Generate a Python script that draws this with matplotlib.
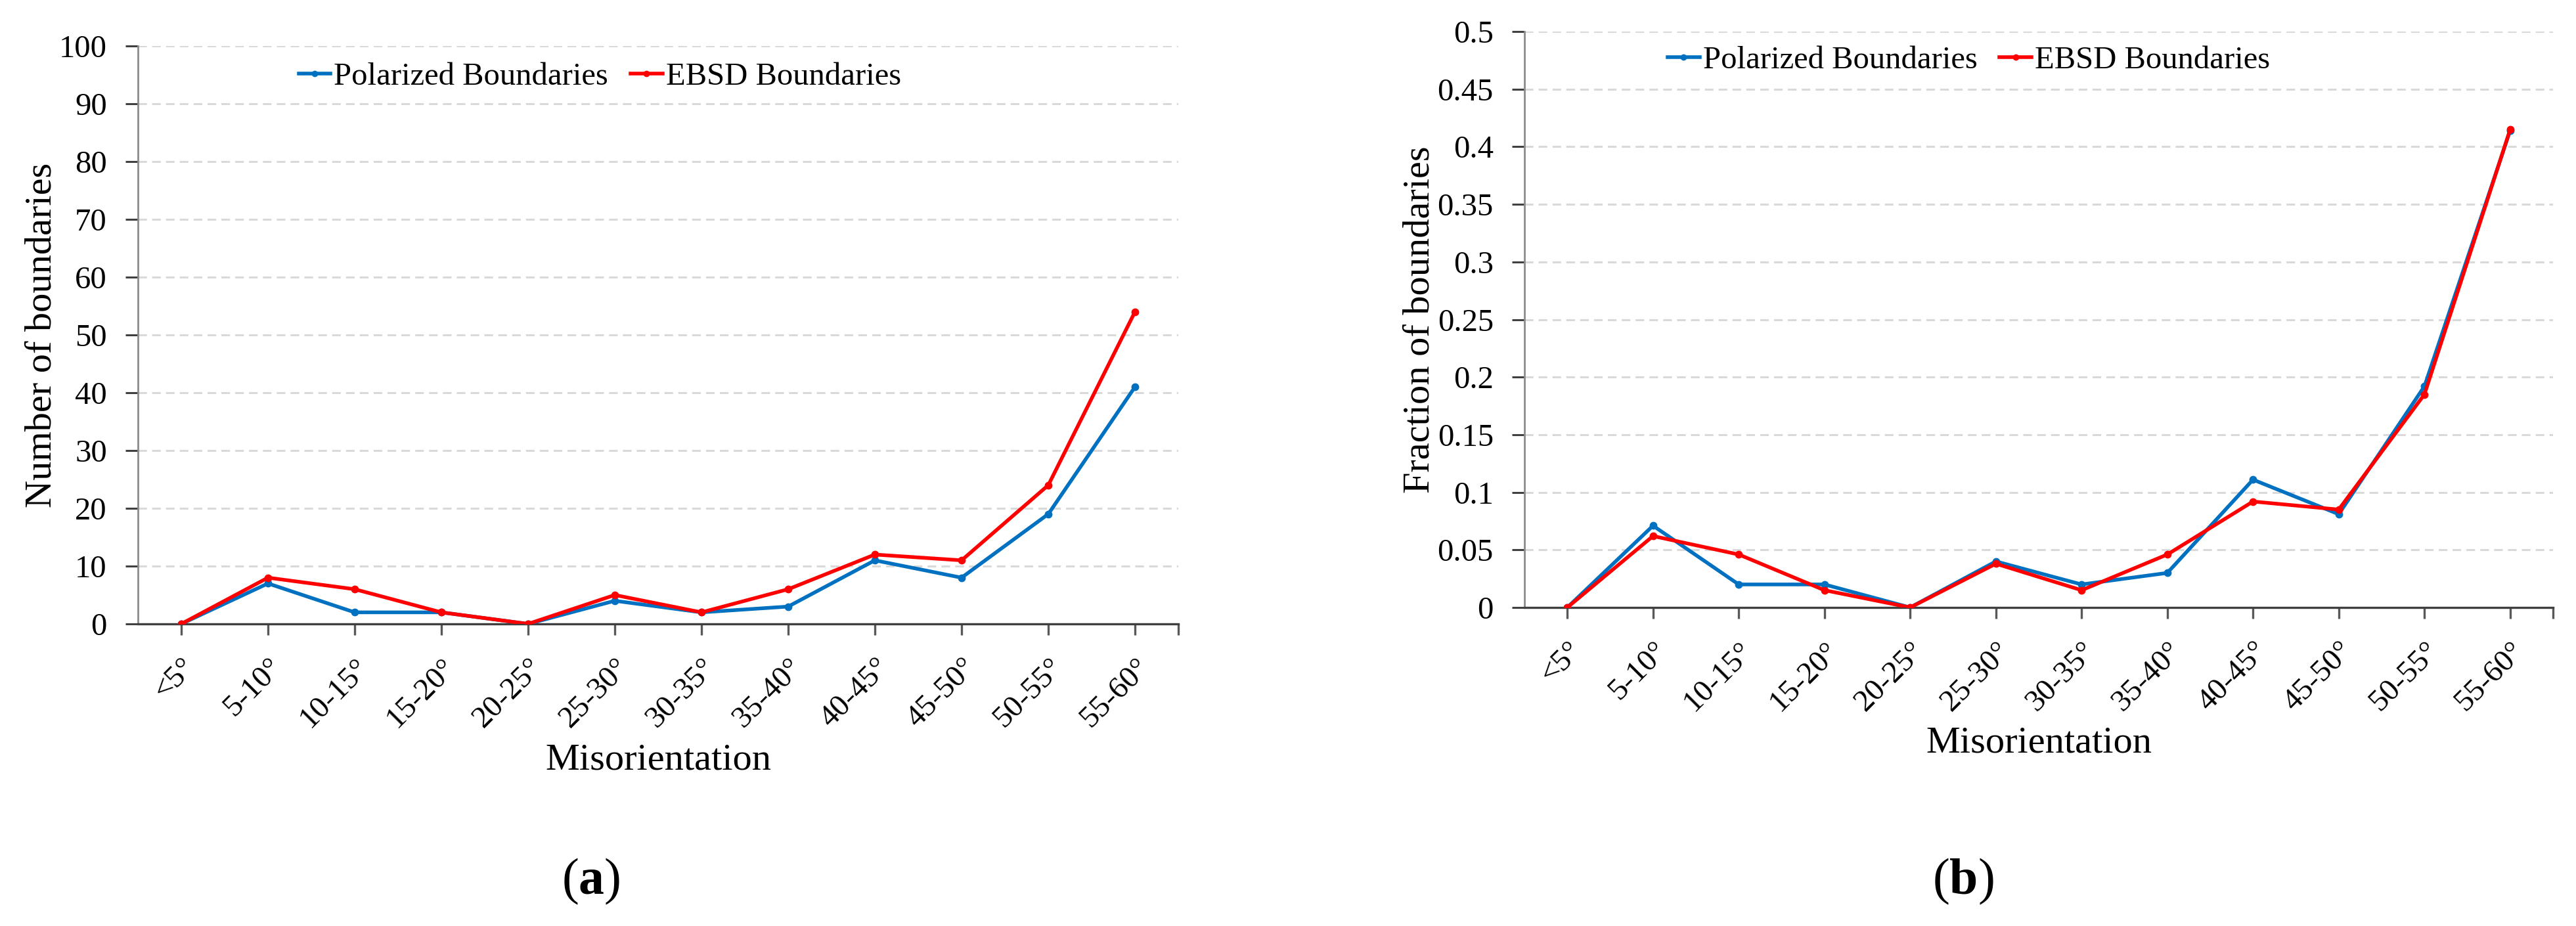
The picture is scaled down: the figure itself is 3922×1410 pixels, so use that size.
import matplotlib
matplotlib.use("Agg")
import matplotlib.pyplot as plt
from matplotlib.ticker import FuncFormatter

plt.rcParams['font.family'] = ['Liberation Serif', 'DejaVu Serif']
plt.rcParams['mathtext.fontset'] = 'custom'
plt.rcParams['mathtext.rm'] = 'Liberation Serif'
plt.rcParams['mathtext.bf'] = 'Liberation Serif:bold'

categories = ['<5°', '5-10°', '10-15°', '15-20°', '20-25°', '25-30°',
              '30-35°', '35-40°', '40-45°', '45-50°', '50-55°', '55-60°']

polarized_count = [0, 7, 2, 2, 0, 4, 2, 3, 11, 8, 19, 41]
ebsd_count = [0, 8, 6, 2, 0, 5, 2, 6, 12, 11, 24, 54]

polarized_frac = [0, 0.071, 0.020, 0.020, 0, 0.040, 0.020, 0.030, 0.111, 0.081, 0.192, 0.414]
ebsd_frac = [0, 0.062, 0.046, 0.015, 0, 0.038, 0.015, 0.046, 0.092, 0.085, 0.185, 0.415]

left_yticks = [0, 10, 20, 30, 40, 50, 60, 70, 80, 90, 100]
right_yticks = [0, 0.05, 0.1, 0.15, 0.2, 0.25, 0.3, 0.35, 0.4, 0.45, 0.5]

BLUE = '#0070C0'
RED = '#FF0000'

W, H = 3923, 1410
fig = plt.figure(figsize=(W / 100, H / 100), dpi=100)

def px_axes(x0, x1, ytop, ybot):
    return fig.add_axes([x0 / W, 1 - ybot / H, (x1 - x0) / W, (ybot - ytop) / H])

ax1 = px_axes(210, 1794, 70, 950)
ax2 = px_axes(2321, 3887, 48, 925)

def fmt(v, pos):
    s = ('%.2f' % v).rstrip('0').rstrip('.')
    return s

def style(ax, yticks, ylabel, pol, ebs, legend_xy, ylab_x):
    x = list(range(len(categories)))
    ax.plot(x, pol, color=BLUE, lw=4, marker='o', ms=7.5, label='Polarized Boundaries', zorder=3)
    ax.plot(x, ebs, color=RED, lw=4, marker='o', ms=7.5, label='EBSD Boundaries', zorder=4)
    ax.set_xlim(-0.5, len(categories) - 0.5)
    ax.set_ylim(yticks[0], yticks[-1])
    ax.set_yticks(yticks)
    ax.yaxis.set_major_formatter(FuncFormatter(fmt))
    ax.set_xticks(x)
    ax.set_xticklabels(categories, rotation=45, ha='right', va='top',
                       rotation_mode='anchor', fontsize=34)
    ax.set_xticks([len(categories) - 0.5], minor=True)
    ax.tick_params(axis='x', which='both', direction='out', length=12, width=2.4,
                   color='#595959', pad=20)
    ax.tick_params(axis='y', direction='out', length=14, width=2.2, color='#404040',
                   labelsize=35, pad=20)
    for s in ['top', 'right']:
        ax.spines[s].set_visible(False)
    ax.spines['left'].set_color('#8c8c8c')
    ax.spines['left'].set_linewidth(2)
    ax.spines['bottom'].set_color('#404040')
    ax.spines['bottom'].set_linewidth(2.4)
    ax.grid(axis='y', color='#d9d9d9', lw=2.2, linestyle=(0, (4.3, 2.6)))
    ax.set_axisbelow(True)
    ax.set_ylabel(ylabel, fontsize=42)
    ax.yaxis.set_label_coords(ylab_x, 0.5)
    ax.set_xlabel('Misorientation', fontsize=42)
    ax.xaxis.set_label_coords(0.5, -0.206)
    ax.legend(loc='center', bbox_to_anchor=legend_xy, ncol=2, frameon=False,
              fontsize=35, handlelength=1.0, handletextpad=0.1, columnspacing=0.7,
              numpoints=1, markerscale=0.8)

style(ax1, left_yticks, 'Number of boundaries', polarized_count, ebsd_count, (0.444, 0.947), -0.076)
style(ax2, right_yticks, 'Fraction of boundaries', polarized_frac, ebsd_frac, (0.432, 0.95), -0.085)

fig.text(900 / W, 1 - 1342 / H, r'($\mathbf{a}$)', fontsize=56, ha='center', va='center')
fig.text(2989 / W, 1 - 1342 / H, r'($\mathbf{b}$)', fontsize=56, ha='center', va='center')

fig.savefig('out.png', dpi=100, facecolor='white')
